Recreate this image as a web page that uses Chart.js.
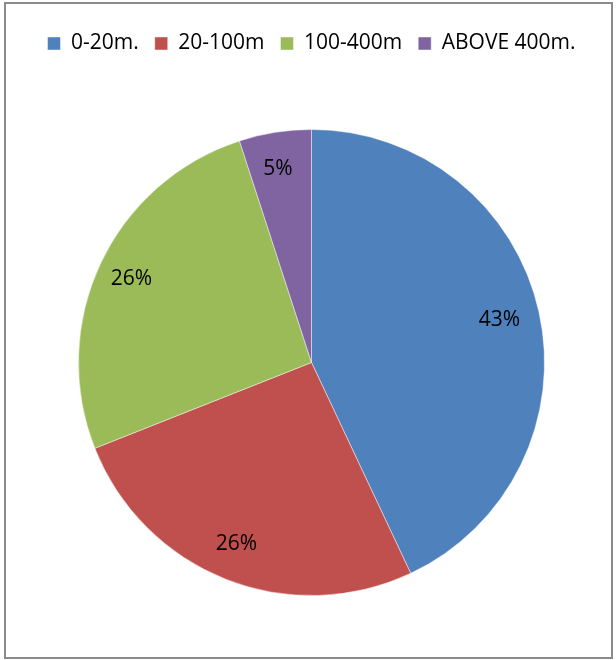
<!DOCTYPE html>
<html>
<head>
<meta charset="utf-8">
<title>Distance</title>
<script src="https://cdn.jsdelivr.net/npm/chart.js@4.4.1/dist/chart.umd.min.js"></script>
<style>
  html, body { margin: 0; padding: 0; background: #fff; }
  #wrap { position: relative; width: 616px; height: 660px; }
</style>
</head>
<body>
<div id="wrap"><canvas id="pie" width="616" height="660"></canvas></div>
<script>
// distance classes and their share (percent)
var classes = ["0-20m.", "20-100m", "100-400m", "ABOVE 400m."];
var shares = [43, 26, 26, 5];
var sliceColors = ["#4F81BD", "#C0504D", "#9BBB59", "#8064A2"];

var FONT = "'Open Sans', 'Liberation Sans', sans-serif";

// grey frame round the whole chart
var framePlugin = {
  id: "frame",
  beforeDraw: function (chart) {
    var ctx = chart.ctx;
    ctx.save();
    ctx.fillStyle = "#fff";
    ctx.fillRect(0, 0, chart.width, chart.height);
    ctx.strokeStyle = "#8a8a8a";
    ctx.lineWidth = 2;
    ctx.strokeRect(5, 3, 607, 655);
    ctx.restore();
  }
};

// leave more room under the legend before the pie starts
var legendGap = {
  id: "legendGap",
  beforeLayout: function (chart) {
    var lg = chart.legend;
    if (lg && !lg._gapDone) {
      var fit = lg.fit;
      lg.fit = function () {
        fit.call(this);
        this.height += 16;
      };
      lg._gapDone = true;
    }
  }
};

// percent labels inside each slice
var sliceLabels = {
  id: "sliceLabels",
  afterDatasetsDraw: function (chart) {
    var ctx = chart.ctx;
    var meta = chart.getDatasetMeta(0);
    ctx.save();
    ctx.font = "21px " + FONT;
    ctx.fillStyle = "#000";
    ctx.textAlign = "center";
    ctx.textBaseline = "middle";
    meta.data.forEach(function (arc, i) {
      var p = arc.getProps(["x", "y", "startAngle", "endAngle", "outerRadius"], true);
      var mid = (p.startAngle + p.endAngle) / 2;
      var r = p.outerRadius * 0.84;
      ctx.fillText(shares[i] + "%", p.x + Math.cos(mid) * r - 3, p.y + Math.sin(mid) * r);
    });
    ctx.restore();
  }
};

new Chart(document.getElementById("pie"), {
  type: "pie",
  data: {
    labels: classes,
    datasets: [{
      data: shares,
      backgroundColor: sliceColors,
      borderColor: "rgba(255,255,255,0.45)",
      borderWidth: 1
    }]
  },
  options: {
    responsive: false,
    animation: false,
    radius: 233,
    layout: { padding: { left: 10, right: 3, top: 17, bottom: 15 } },
    plugins: {
      legend: {
        position: "top",
        labels: {
          boxWidth: 13,
          boxHeight: 13,
          padding: 16,
          color: "#000",
          font: { size: 21, family: FONT }
        }
      },
      tooltip: { enabled: false }
    }
  },
  plugins: [framePlugin, legendGap, sliceLabels]
});
</script>
</body>
</html>
